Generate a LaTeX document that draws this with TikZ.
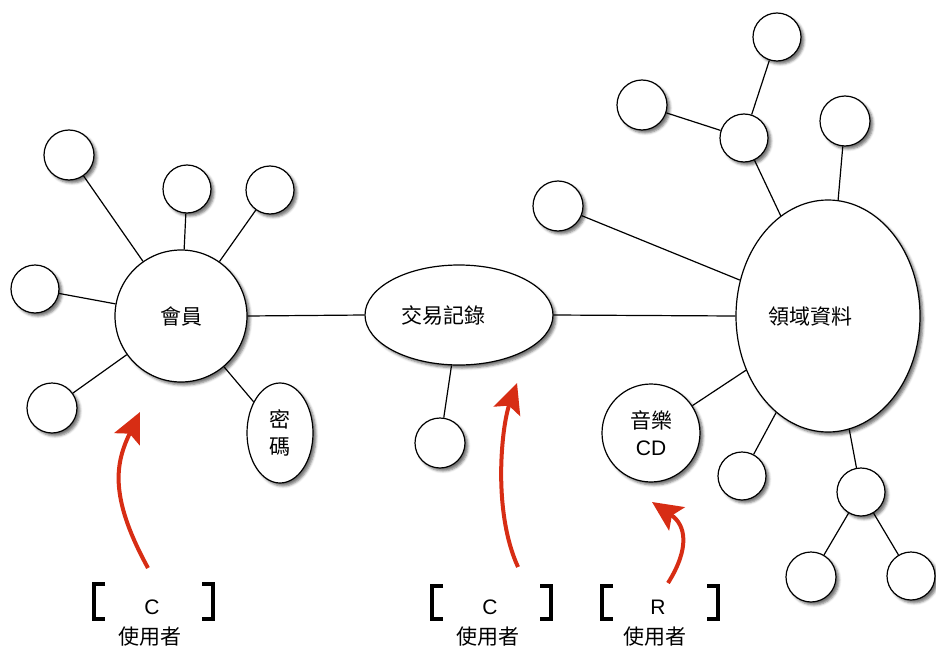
\documentclass[tikz,border=0pt]{standalone}
\usepackage{fontspec}
\setmainfont{Liberation Sans}
\newfontfamily\cjk{Noto Sans CJK TC}
\usetikzlibrary{shapes.geometric,arrows.meta,shadows.blur}
\definecolor{arrred}{RGB}{215,45,20}
\begin{document}
\begin{tikzpicture}[x=1pt,y=-1pt,
  shd/.style={blur shadow={shadow xshift=3pt,shadow yshift=-3pt,shadow blur radius=2.5pt,shadow opacity=55}},
  bub/.style={circle,draw,line width=1.2pt,fill=white,inner sep=0pt,minimum size=#1,shd},
  ellnode/.style 2 args={ellipse,draw,line width=1.2pt,fill=white,inner sep=0pt,minimum width=#1,minimum height=#2,shd},
  txt/.style={font=\fontsize{21}{27}\selectfont},
  lnk/.style={line width=1.2pt},
  brk/.style={line width=4pt},
  redarr/.style={draw=arrred,line width=4pt,-{Stealth[length=30pt,width=28pt,inset=6pt]}}
]
\useasboundingbox (0,0) rectangle (936,650);

% left cluster
\node[bub=132pt,txt] (m) at (181,316) {\cjk 會員};
\node[bub=50pt] (m1) at (69,155) {};
\node[bub=48pt] (m2) at (187,189) {};
\node[bub=48pt] (m3) at (270,190) {};
\node[bub=48pt] (m4) at (35,289) {};
\node[bub=50pt] (m5) at (52,408) {};
\node[ellnode={66pt}{100pt},txt,align=center] (pw) at (280,433) {\cjk 密\\\cjk 碼};

% center
\node[ellnode={188pt}{100pt},txt] (t) at (459,315) {\hspace*{-32pt}\cjk 交易記錄};
\node[bub=50pt] (t1) at (440,443) {};

% right cluster
\node[ellnode={184pt}{232pt},txt] (d) at (828,316) {\hspace*{-36pt}\cjk 領域資料};
\node[bub=48pt] (d1) at (744,138) {};
\node[bub=48pt] (d2) at (777,37) {};
\node[bub=50pt] (d3) at (642,105) {};
\node[bub=50pt] (d4) at (845,121) {};
\node[bub=50pt] (d5) at (558,206) {};
\node[bub=98pt,txt,align=center] (cd) at (651,433) {{\cjk 音樂}\\CD};
\node[bub=48pt] (d6) at (742,476) {};
\node[bub=48pt] (d7) at (861,492) {};
\node[bub=50pt] (d8) at (811,577) {};
\node[bub=48pt] (d9) at (911,576) {};

% connectors
\foreach \a/\b in {m/m1,m/m2,m/m3,m/m4,m/m5,m/pw,t/t1,d/d1,d1/d2,d1/d3,d/d4,d/d5,d/cd,d/d6,d/d7,d7/d8,d7/d9}
  \draw[lnk] (\a) -- (\b);
\draw[lnk] (m.east) -- (t.west);
\draw[lnk] (t.east) -- (d.west);

% user labels
\node[txt] (c1) at (152,607) {C};
\node[txt] (u1) at (150,637) {\cjk 使用者};
\node[txt] (c2) at (490,607) {C};
\node[txt] (u2) at (488,637) {\cjk 使用者};
\node[txt] (r3) at (658,607) {R};
\node[txt] (u3) at (655,637) {\cjk 使用者};

% brackets
\draw[brk] (105,584) -- (94,584) -- (94,619) -- (105,619);
\draw[brk] (202,584) -- (213,584) -- (213,619) -- (202,619);
\draw[brk] (443,586) -- (432,586) -- (432,619) -- (443,619);
\draw[brk] (540,586) -- (551,586) -- (551,619) -- (540,619);
\draw[brk] (613,586) -- (602,586) -- (602,619) -- (613,619);
\draw[brk] (707,586) -- (718,586) -- (718,619) -- (707,619);

% red arrows
\coordinate (a1s) at (148,568); \coordinate (a1e) at (140,412);
\draw[redarr] (a1s) .. controls (108,495) and (116,462) .. (a1e);
\coordinate (a2s) at (518,567); \coordinate (a2e) at (517,383);
\draw[redarr] (a2s) .. controls (492,510) and (502,425) .. (a2e);
\coordinate (a3s) at (668,583); \coordinate (a3e) at (652,502);
\draw[redarr] (a3s) .. controls (690,548) and (686,525) .. (a3e);
\end{tikzpicture}
\end{document}
